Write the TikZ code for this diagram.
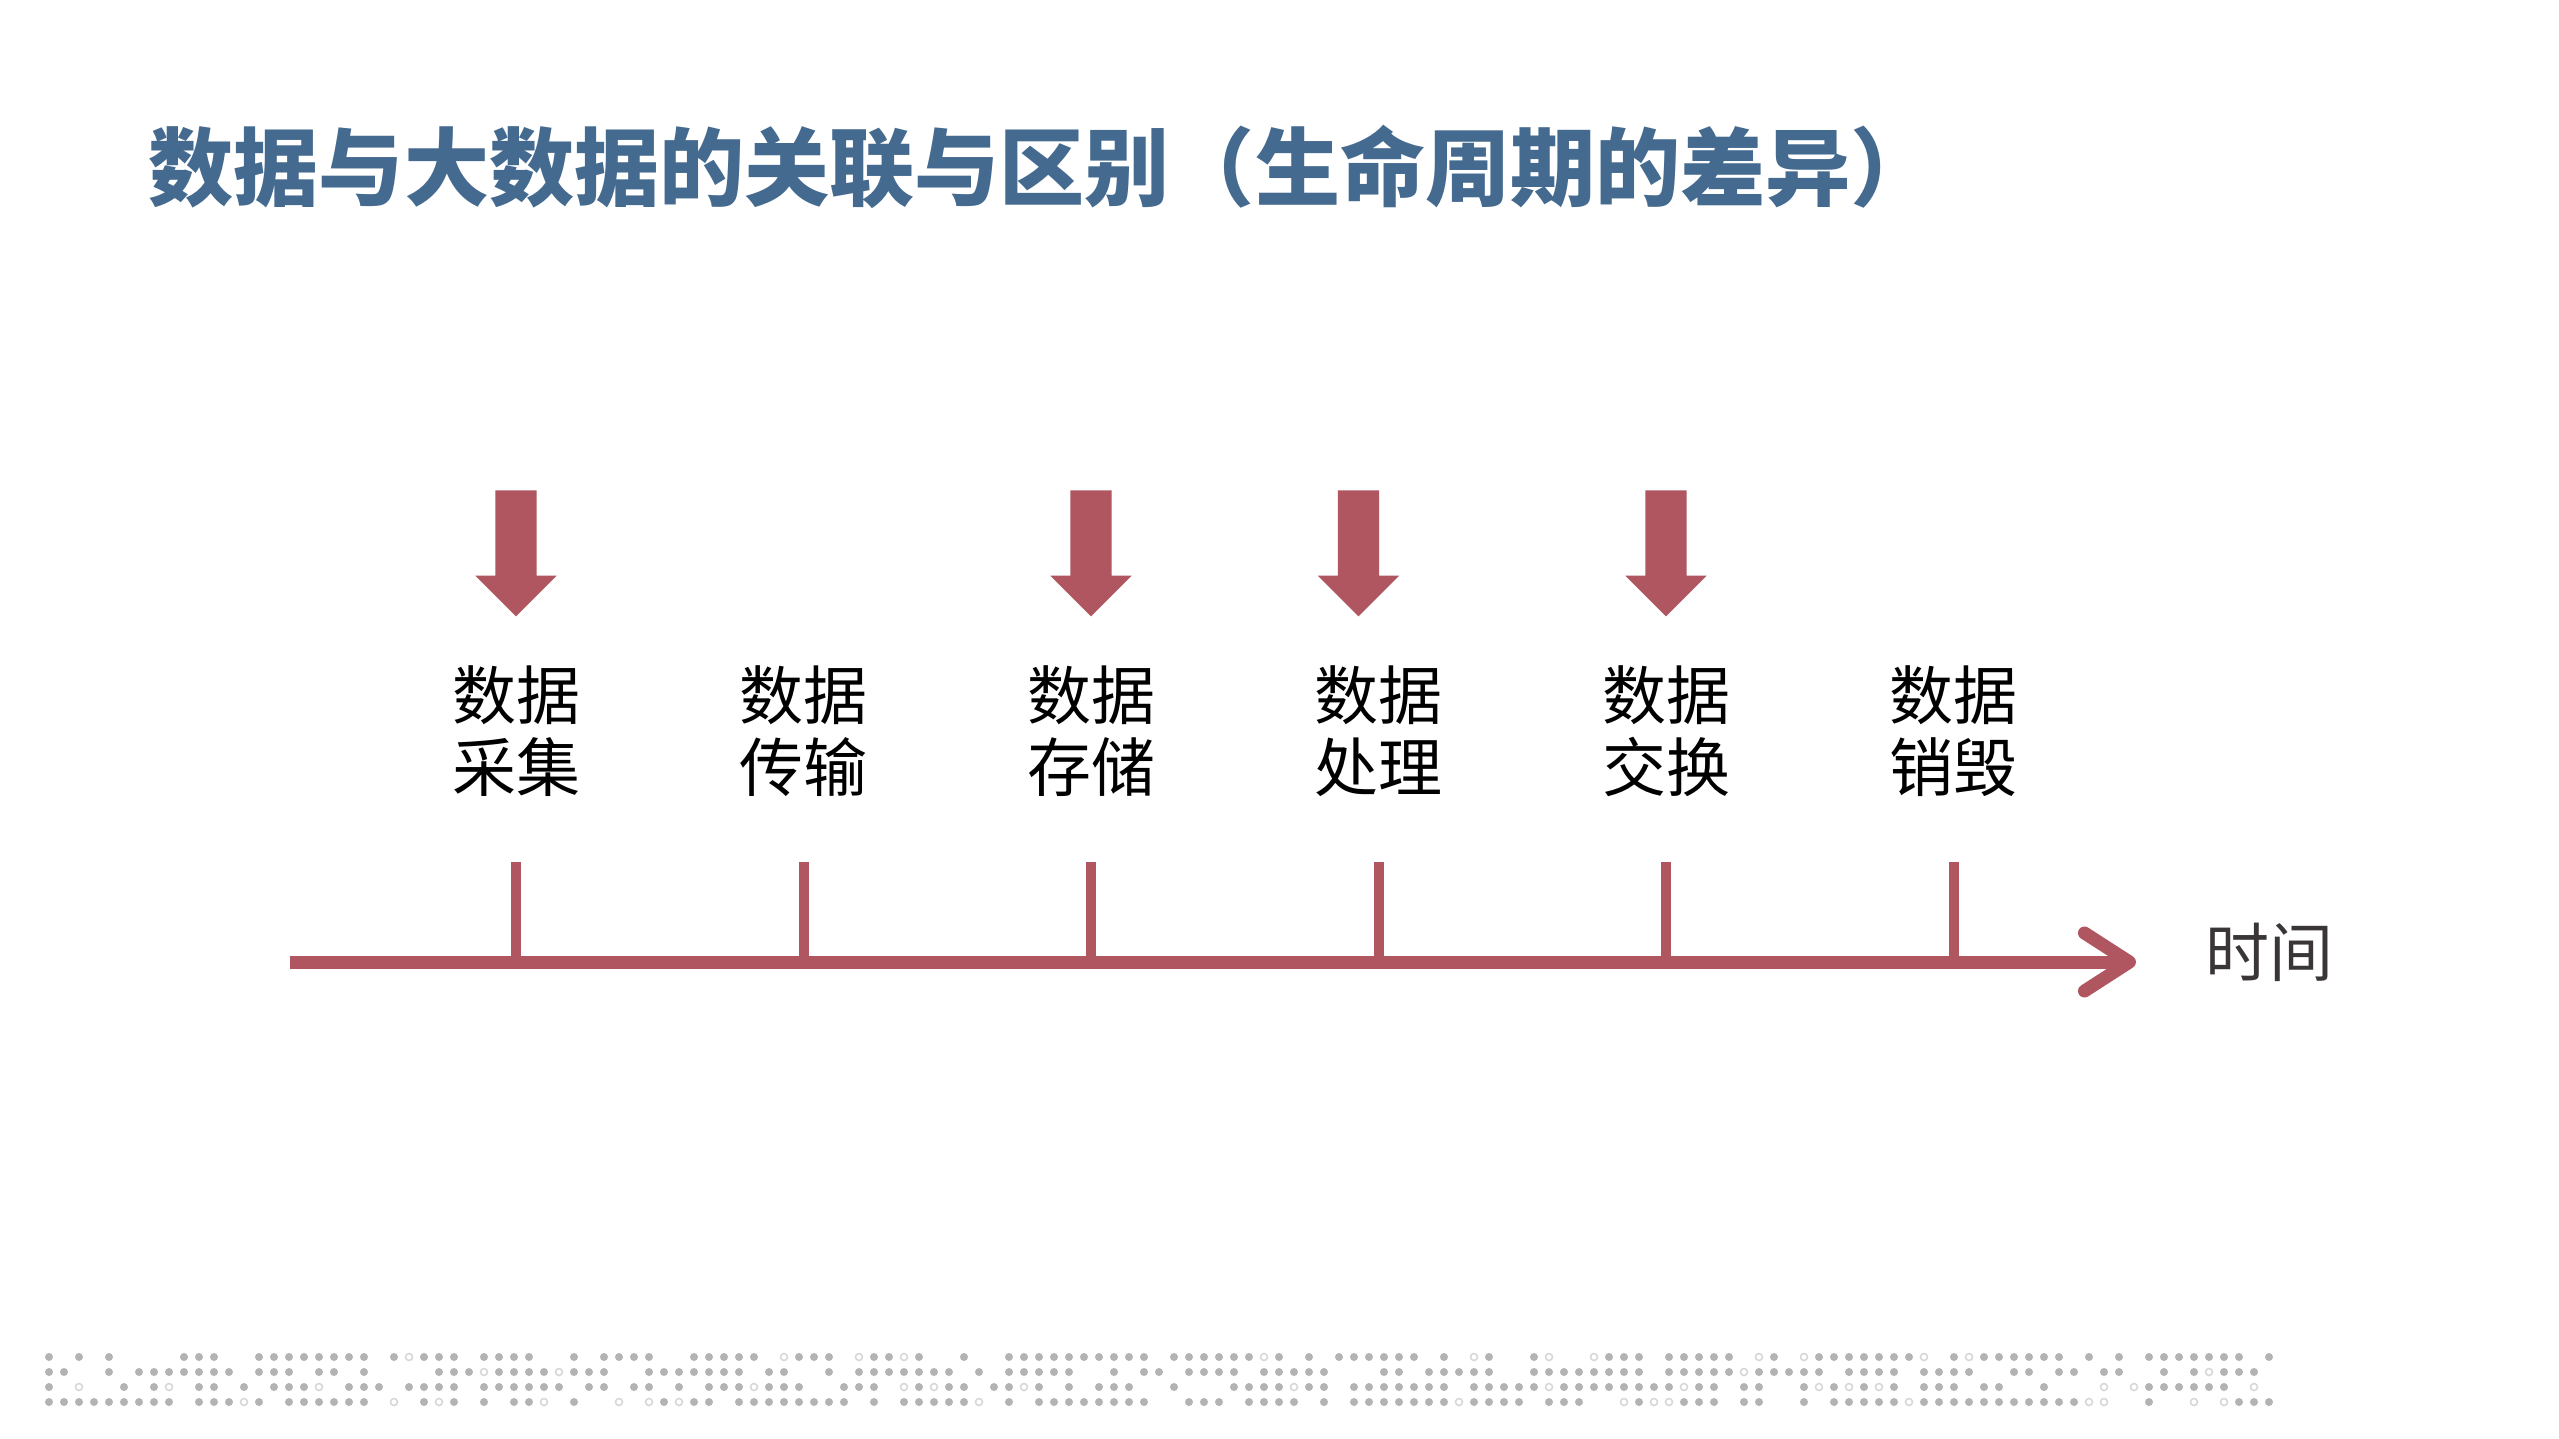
\documentclass[tikz,border=0pt]{standalone}
\usepackage{fontspec}
\setmainfont{Noto Sans CJK SC}
\usetikzlibrary{shapes,arrows.meta,positioning,calc}

\definecolor{titleblue}{HTML}{446A8F}
\definecolor{axisred}{HTML}{B05660}
\definecolor{timegray}{HTML}{3A3538}
\definecolor{dotgray}{HTML}{B3B3B3}
\definecolor{dotring}{HTML}{D6D6D6}

\begin{document}
\begin{tikzpicture}[
    x=0.01cm, y=-0.01cm,
    node distance=1.58cm,
    stage/.style={align=center, inner sep=0pt, font=\fontsize{18.2pt}{20.5pt}\selectfont},
    pointer/.style={single arrow, draw=none, fill=axisred, shape border rotate=270, inner sep=0.2cm, minimum height=1.26cm, minimum width=0.8cm, single arrow head extend=0.2cm},
    tickline/.style={draw=axisred, line width=0.1cm},
    timeline/.style={draw=axisred, line width=0.13cm, -{Straight Barb[length=0.45cm, width=0.58cm, round]}}
]
\path[use as bounding box, fill=white] (0,0) rectangle (2559,1439);

% title
\node[anchor=west, inner sep=0pt, text=titleblue, font=\fontsize{24.2pt}{28pt}\selectfont\bfseries] (title) at (148,167) {数据与大数据的关联与区别（生命周期的差异）};

% stages
\node[stage] (collect) at (516,731) {数据\\采集};
\node[stage, right=of collect] (transfer) {数据\\传输};
\node[stage, right=of transfer] (store) {数据\\存储};
\node[stage, right=of store] (process) {数据\\处理};
\node[stage, right=of process] (exchange) {数据\\交换};
\node[stage, right=of exchange] (destroy) {数据\\销毁};

% down arrows
\node[pointer] (p1) at (collect |- 0,543) {};
\node[pointer] (p3) at (store |- 0,543) {};
\node[pointer, xshift=-0.2cm] (p4) at (process |- 0,543) {};
\node[pointer] (p5) at (exchange |- 0,543) {};

% time axis
\coordinate (ticktop) at (0,862);
\coordinate (axisleft) at (290,962);
\coordinate (axisright) at (2136,962);
\draw[timeline] (axisleft) -- (axisright);
\foreach \n in {collect,transfer,store,process,exchange,destroy}
    \draw[tickline] (\n |- ticktop) -- (\n |- axisleft);
\node[right=0.69cm of axisright, yshift=0.1cm, inner sep=0pt, text=timegray, font=\fontsize{18.2pt}{20.5pt}\selectfont] (timelabel) {时间};

% dotted band
\pgfmathsetseed{2718}
\foreach \col in {0,...,148}{
    \foreach \row in {0,...,3}{
        \pgfmathsetmacro{\roll}{rnd}
        \ifdim\roll pt<0.64pt
            \fill[dotgray] (49+15*\col,1357+15*\row) circle[radius=0.04cm];
        \else\ifdim\roll pt<0.74pt
            \draw[dotring, line width=0.015cm] (49+15*\col,1357+15*\row) circle[radius=0.035cm];
        \fi\fi
    }
}

\end{tikzpicture}
\end{document}
